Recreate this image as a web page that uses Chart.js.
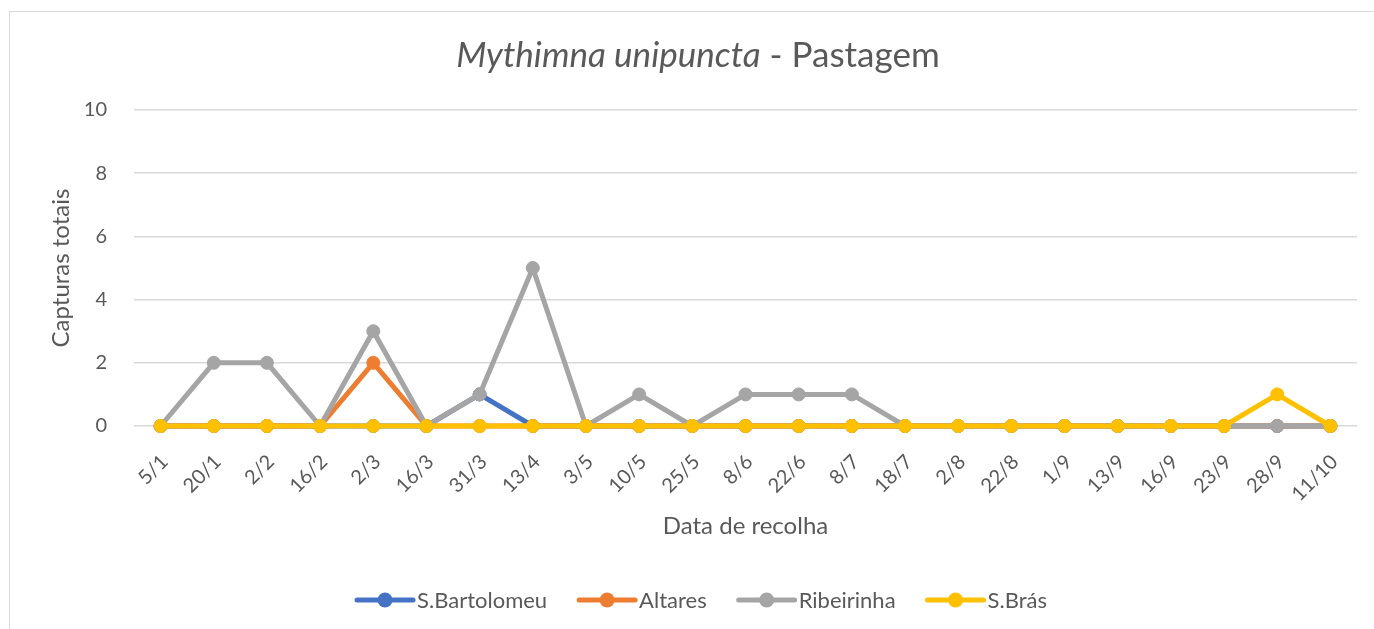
<!DOCTYPE html>
<html>
<head>
<meta charset="utf-8">
<script src="https://cdn.jsdelivr.net/npm/chart.js@4/dist/chart.umd.min.js"></script>
<style>
  html, body { margin: 0; padding: 0; background: #fff; overflow: hidden; }
  #wrap { position: relative; width: 1374px; height: 629px; }
  #frame { position: absolute; left: 9px; top: 11px; width: 1420px; height: 700px; border: 1px solid #d9d9d9; box-sizing: border-box; }
  canvas { position: absolute; left: 0; top: 0; }
</style>
</head>
<body>
<div id="wrap">
  <div id="frame"></div>
  <canvas id="c" width="1374" height="629"></canvas>
</div>
<script>
const categories = ['5/1','20/1','2/2','16/2','2/3','16/3','31/3','13/4','3/5','10/5','25/5','8/6','22/6','8/7','18/7','2/8','22/8','1/9','13/9','16/9','23/9','28/9','11/10'];
const sBartolomeu = [0,0,0,0,0,0,1,0,0,0,0,0,0,0,0,0,0,0,0,0,0,0,0];
const altares     = [0,0,0,0,2,0,0,0,0,0,0,0,0,0,0,0,0,0,0,0,0,0,0];
const ribeirinha  = [0,2,2,0,3,0,1,5,0,1,0,1,1,1,0,0,0,0,0,0,0,0,0];
const sBras       = [0,0,0,0,0,0,0,0,0,0,0,0,0,0,0,0,0,0,0,0,0,1,0];
const seriesNames = ['S.Bartolomeu','Altares','Ribeirinha','S.Brás'];
const yTicks = [0,2,4,6,8,10];
const titleItalic = 'Mythimna unipuncta';
const titleRest = ' - Pastagem';
const xTitle = 'Data de recolha';
const yTitle = 'Capturas totais';

const colors = ['#4472C4','#ED7D31','#A5A5A5','#FFC000'];
const FONT = 'Lato, "Liberation Sans", sans-serif';
const TEXT = '#595959';

function ds(label, data, color, order) {
  return {
    label, data, order,
    borderColor: color, backgroundColor: color,
    pointBackgroundColor: color, pointBorderColor: color,
    borderWidth: 5, pointRadius: 6.5, pointBorderWidth: 1,
    pointHoverRadius: 6.5, tension: 0, clip: false
  };
}

const titlePlugin = {
  id: 'mixedTitle',
  afterDraw(chart) {
    const ctx = chart.ctx;
    ctx.save();
    ctx.fillStyle = TEXT;
    ctx.textBaseline = 'middle';
    const fi = 'italic 35px ' + FONT, fn = '35px ' + FONT;
    ctx.font = fi; const w1 = ctx.measureText(titleItalic).width;
    ctx.font = fn; const w2 = ctx.measureText(titleRest).width;
    let x = 698 - (w1 + w2) / 2;
    const y = 56;
    ctx.textAlign = 'left';
    ctx.font = fi; ctx.fillText(titleItalic, x, y);
    ctx.font = fn; ctx.fillText(titleRest, x + w1, y);
    ctx.restore();
  }
};

const legendPlugin = {
  id: 'customLegend',
  afterDraw(chart) {
    const ctx = chart.ctx;
    ctx.save();
    ctx.font = '22px ' + FONT;
    ctx.textBaseline = 'middle';
    const lineLen = 56, gapText = 4, gapItem = 32;
    const items = chart.data.datasets.map(d => ({ label: d.label, color: d.borderColor, w: ctx.measureText(d.label).width }));
    const total = items.reduce((s, it) => s + lineLen + gapText + it.w, 0) + gapItem * (items.length - 1);
    let x = 702 - total / 2;
    const y = 600;
    items.forEach(it => {
      ctx.strokeStyle = it.color; ctx.lineWidth = 5; ctx.lineCap = 'round';
      ctx.beginPath(); ctx.moveTo(x, y); ctx.lineTo(x + lineLen, y); ctx.stroke();
      ctx.fillStyle = it.color;
      ctx.beginPath(); ctx.arc(x + lineLen / 2, y, 7.5, 0, Math.PI * 2); ctx.fill();
      ctx.fillStyle = TEXT; ctx.textAlign = 'left';
      ctx.fillText(it.label, x + lineLen + gapText, y + 1);
      x += lineLen + gapText + it.w + gapItem;
    });
    ctx.restore();
  }
};

new Chart(document.getElementById('c'), {
  type: 'line',
  data: {
    labels: categories,
    datasets: [
      ds(seriesNames[0], sBartolomeu, colors[0], 4),
      ds(seriesNames[1], altares, colors[1], 3),
      ds(seriesNames[2], ribeirinha, colors[2], 2),
      ds(seriesNames[3], sBras, colors[3], 1)
    ]
  },
  options: {
    responsive: false,
    animation: false,
    devicePixelRatio: 1,
    layout: { padding: { left: 10, top: 110, right: 17, bottom: 88 } },
    plugins: { legend: { display: false }, title: { display: false }, tooltip: { enabled: false } },
    scales: {
      x: {
        offset: true,
        grid: { display: false },
        border: { display: false },
        ticks: { autoSkip: false, maxRotation: 45, minRotation: 45, color: TEXT, font: { family: FONT, size: 20 }, padding: 16, labelOffset: 4 },
        title: { display: true, text: xTitle, color: TEXT, font: { family: FONT, size: 24 }, padding: { top: 0, bottom: 0 } },
        afterFit(s) { s.height = 115; }
      },
      y: {
        min: 0, max: 10,
        afterBuildTicks(s) { s.ticks = yTicks.map(v => ({ value: v })); },
        grid: { color: '#d9d9d9', lineWidth: 1.5, drawTicks: false },
        border: { display: false },
        ticks: { color: TEXT, font: { family: FONT, size: 20 }, padding: 27 },
        title: { display: true, text: yTitle, color: TEXT, font: { family: FONT, size: 24 }, padding: { top: 37, bottom: 0 } },
        afterFit(s) { s.width = 124; }
      }
    }
  },
  plugins: [titlePlugin, legendPlugin]
});
</script>
</body>
</html>
